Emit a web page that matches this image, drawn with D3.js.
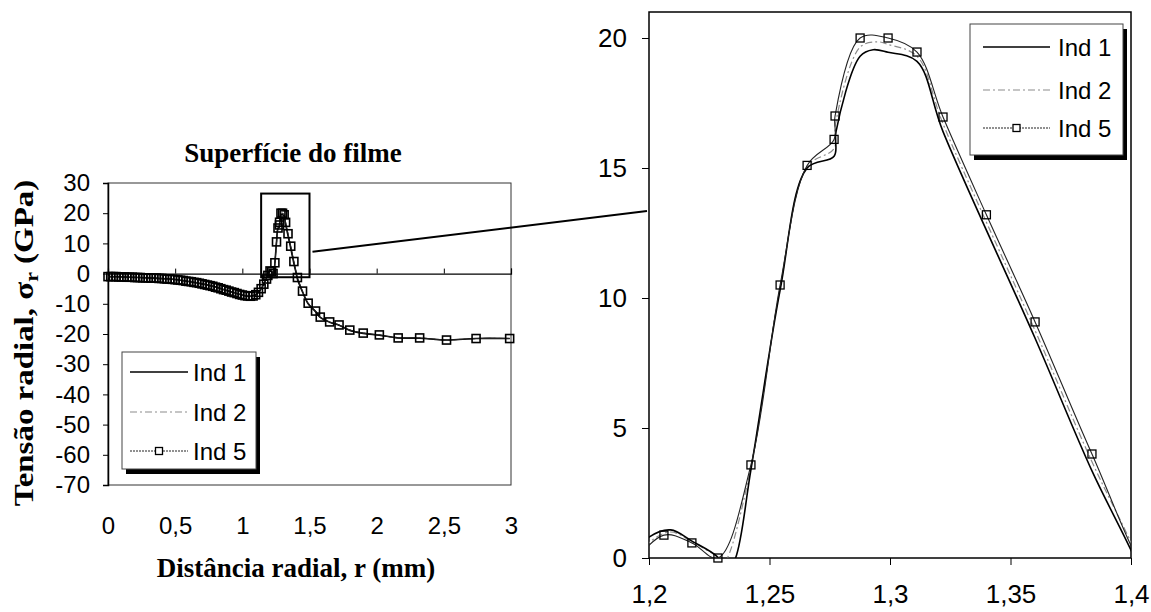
<!DOCTYPE html>
<html><head><meta charset="utf-8">
<script src="https://cdn.jsdelivr.net/npm/d3@7"></script>
<style>body{margin:0;background:#fff}svg{display:block}</style>
</head><body><svg id="c" width="1151" height="612"></svg>
<script>
// ---------- DATA ----------
const seriesNames = ["Ind 1", "Ind 2", "Ind 5"];

const ind1 = [[0,-1.0],[0.1,-1.1],[0.2,-1.25],[0.3,-1.4],[0.4,-1.65],[0.5,-1.95],[0.6,-2.6],[0.7,-3.4],[0.8,-4.4],[0.9,-5.8],[1.0,-7.1],[1.05,-7.5],[1.1,-7.0],[1.15,-4.3],[1.19,-0.3],
  [1.2,0.8],[1.209,1.08],[1.2178,0.65],[1.2286,0.03],[1.232,-0.5],[1.2357,-0.05],[1.2423,3.4],[1.2544,10.3],[1.2656,15.0],[1.2768,15.45],[1.2776,16.4],[1.2876,19.3],[1.293,19.55],[1.2992,19.45],[1.3112,19.1],[1.322,16.4],[1.3602,8.45],[1.3838,3.35],[1.4,0.3],[1.41,-1.8],[1.448,-6.1],
  [1.49,-10.0],[1.545,-12.6],[1.58,-14.5],[1.65,-16.1],[1.72,-17.1],[1.8,-18.8],[1.9,-19.8],[2.02,-20.4],[2.16,-21.3],[2.32,-21.4],[2.52,-22.0],[2.74,-21.5],[2.99,-21.5]];

const ind2 = [[0,-1.0],[0.1,-1.1],[0.2,-1.25],[0.3,-1.4],[0.4,-1.7],[0.5,-2.0],[0.6,-2.6],[0.7,-3.4],[0.8,-4.5],[0.9,-5.9],[1.0,-7.2],[1.05,-7.5],[1.1,-7.0],[1.15,-4.2],[1.19,-0.4],
  [1.2,0.6],[1.209,1.0],[1.2178,0.62],[1.2286,0.02],[1.2305,-0.2],[1.2325,0.0],[1.2423,3.5],[1.2544,10.4],[1.2656,15.05],[1.2768,15.75],[1.2774,16.7],[1.2876,19.65],[1.295,19.85],[1.2992,19.75],[1.3112,19.3],[1.322,16.7],[1.3602,8.75],[1.3838,3.7],[1.4,0.6],[1.41,-1.5],[1.448,-5.9],
  [1.49,-9.9],[1.545,-12.5],[1.58,-14.4],[1.65,-16.0],[1.72,-17.0],[1.8,-18.7],[1.9,-19.7],[2.02,-20.3],[2.16,-21.3],[2.32,-21.3],[2.52,-22.0],[2.74,-21.5],[2.99,-21.5]];

const ind5 = [[0,-1.0],[0.02,-1.0],[0.04,-1.0],[0.06,-1.0],[0.08,-1.1],[0.1,-1.1],[0.12,-1.1],[0.14,-1.2],[0.16,-1.2],[0.18,-1.2],[0.2,-1.3],[0.22,-1.3],[0.24,-1.3],[0.26,-1.4],[0.28,-1.4],[0.3,-1.4],[0.32,-1.5],[0.34,-1.5],[0.36,-1.5],[0.38,-1.6],[0.4,-1.6],[0.42,-1.7],[0.44,-1.8],[0.46,-1.8],[0.48,-1.9],[0.5,-2.0],[0.52,-2.1],[0.54,-2.2],[0.56,-2.3],[0.58,-2.5],[0.6,-2.6],[0.62,-2.7],[0.64,-2.9],[0.66,-3.0],[0.68,-3.2],[0.7,-3.4],[0.72,-3.6],[0.74,-3.8],[0.76,-4.0],[0.78,-4.2],[0.8,-4.5],[0.82,-4.7],[0.84,-5.0],[0.86,-5.3],[0.88,-5.5],[0.9,-5.8],[0.92,-6.1],[0.94,-6.3],[0.96,-6.6],[0.98,-6.9],[1.0,-7.1],[1.02,-7.3],[1.04,-7.4],[1.06,-7.5],[1.08,-7.4],[1.1,-7.0],[1.12,-6.2],[1.14,-5.0],[1.16,-3.5],[1.18,-1.8],[1.19,-0.6],
  [1.2062,0.88],[1.2178,0.58],[1.2286,0.0],[1.2423,3.58],[1.2544,10.5],[1.2656,15.1],[1.2768,16.1],[1.2772,17.0],[1.2876,20.0],[1.2992,20.0],[1.3112,19.46],[1.322,16.96],[1.34,13.2],[1.3602,9.08],[1.3838,4.0],[1.41,-1.3],
  [1.448,-5.8],[1.49,-9.8],[1.545,-12.4],[1.58,-14.4],[1.65,-16.0],[1.72,-17.0],[1.8,-18.7],[1.9,-19.7],[2.02,-20.3],[2.16,-21.3],[2.32,-21.3],[2.52,-22.0],[2.74,-21.5],[2.99,-21.5]];

const leftXTicks = [0, 0.5, 1, 1.5, 2, 2.5, 3];
const leftYTicks = [30, 20, 10, 0, -10, -20, -30, -40, -50, -60, -70];
const rightXTicks = [1.2, 1.25, 1.3, 1.35, 1.4];
const rightYTicks = [0, 5, 10, 15, 20];
const zoomWindow = {x: [1.14, 1.5], y: [-1.2, 26.5]};

// ---------- SETUP ----------
const svg = d3.select("#c");
const SANS = "'Liberation Sans', Arial, sans-serif";
const SERIF = "'Liberation Serif', 'Times New Roman', serif";
const fmtComma = d => String(d).replace(".", ",");

const xL = d3.scaleLinear().domain([0, 3]).range([108, 511]);
const yL = d3.scaleLinear().domain([-70, 30]).range([485, 183]);
const xR = d3.scaleLinear().domain([1.2, 1.4]).range([649, 1131]);
const yR = d3.scaleLinear().domain([0, 21]).range([558, 12]);

const styles = {
  "Ind 1": {stroke: "#000", width: 1.6, dash: null, marker: false},
  "Ind 2": {stroke: "#8c8c8c", width: 1.2, dash: "7,3,2,3", marker: false},
  "Ind 5": {stroke: "#222", width: 1.1, dash: null, marker: true}
};
const dataByName = {"Ind 1": ind1, "Ind 2": ind2, "Ind 5": ind5};

const defs = svg.append("defs");
defs.append("clipPath").attr("id", "clipL").append("rect")
  .attr("x", xL(0)).attr("y", yL(30)).attr("width", xL(3) - xL(0)).attr("height", yL(-70) - yL(30));
defs.append("clipPath").attr("id", "clipR").append("rect")
  .attr("x", xR(1.2)).attr("y", yR(21)).attr("width", xR(1.4) - xR(1.2)).attr("height", yR(0) - yR(21));

function drawPanel(g, xs, ys, clipId, msize, mstroke) {
  const line = d3.line().x(d => xs(d[0])).y(d => ys(d[1])).curve(d3.curveCatmullRom.alpha(0.5));
  const gl = g.append("g").attr("clip-path", `url(#${clipId})`);
  ["Ind 2", "Ind 1", "Ind 5"].forEach(name => {
    const s = styles[name];
    gl.append("path").datum(dataByName[name]).attr("d", line)
      .attr("fill", "none").attr("stroke", s.stroke).attr("stroke-width", s.width)
      .attr("stroke-dasharray", s.dash);
  });
  const [dx0, dx1] = xs.domain(), [dy0, dy1] = ys.domain();
  const pts = ind5.filter(d => d[0] >= dx0 && d[0] <= dx1 && d[1] >= Math.min(dy0, dy1) && d[1] <= Math.max(dy0, dy1));
  g.append("g").selectAll("rect").data(pts).join("rect")
    .attr("x", d => xs(d[0]) - msize / 2).attr("y", d => ys(d[1]) - msize / 2)
    .attr("width", msize).attr("height", msize)
    .attr("fill", "none").attr("stroke", "#000").attr("stroke-width", mstroke);
}

function legend(x, y, w, h, rows, lineX0, lineX1, textX, fontSize) {
  const g = svg.append("g");
  g.append("rect").attr("x", x + 4).attr("y", y + 5).attr("width", w).attr("height", h).attr("fill", "#000");
  g.append("rect").attr("x", x).attr("y", y).attr("width", w).attr("height", h)
    .attr("fill", "#fff").attr("stroke", "#444").attr("stroke-width", 1);
  seriesNames.forEach((name, i) => {
    const s = styles[name], ry = rows[i];
    g.append("line").attr("x1", lineX0).attr("x2", lineX1).attr("y1", ry).attr("y2", ry)
      .attr("stroke", s.stroke).attr("stroke-width", s.width)
      .attr("stroke-dasharray", s.marker ? "2,1" : s.dash);
    if (s.marker) {
      g.append("rect").attr("x", (lineX0 + lineX1) / 2 - 3.5).attr("y", ry - 3.5).attr("width", 7).attr("height", 7)
        .attr("fill", "#fff").attr("stroke", "#000").attr("stroke-width", 1.3);
    }
    g.append("text").attr("x", textX).attr("y", ry).attr("dy", "0.36em")
      .attr("font-family", SANS).attr("font-size", fontSize).text(name);
  });
}

// ---------- LEFT CHART ----------
const gL = svg.append("g");
gL.append("rect").attr("x", xL(0)).attr("y", yL(30)).attr("width", xL(3) - xL(0)).attr("height", yL(-70) - yL(30))
  .attr("fill", "none").attr("stroke", "#333").attr("stroke-width", 1);
const axYL = gL.append("g").attr("transform", `translate(${xL(0)},0)`)
  .call(d3.axisLeft(yL).tickValues(leftYTicks).tickSize(5).tickPadding(13).tickFormat(d => String(d)));
axYL.select(".domain").attr("stroke-width", 1.5);
const axX0 = gL.append("g").attr("transform", `translate(0,${yL(0)})`)
  .call(d3.axisBottom(xL).tickValues(leftXTicks).tickSize(-5).tickFormat(""));
axX0.select(".domain").attr("stroke-width", 1.2);
const axXB = gL.append("g").attr("transform", `translate(0,${yL(-70)})`)
  .call(d3.axisBottom(xL).tickValues(leftXTicks).tickSize(0).tickPadding(32).tickFormat(fmtComma));
axXB.select(".domain").remove();
gL.selectAll(".tick text").attr("font-family", SANS).attr("font-size", 24).attr("fill", "#000");

drawPanel(gL, xL, yL, "clipL", 8, 1.6);

gL.append("rect").attr("x", xL(zoomWindow.x[0])).attr("y", yL(zoomWindow.y[1]))
  .attr("width", xL(zoomWindow.x[1]) - xL(zoomWindow.x[0])).attr("height", yL(zoomWindow.y[0]) - yL(zoomWindow.y[1]))
  .attr("fill", "none").attr("stroke", "#000").attr("stroke-width", 2);
svg.append("line").attr("x1", xL(zoomWindow.x[1]) + 3).attr("y1", yL(7.2))
  .attr("x2", xR(1.2) - 2).attr("y2", yR(13.35)).attr("stroke", "#000").attr("stroke-width", 2);

svg.append("text").attr("x", 293).attr("y", 162).attr("text-anchor", "middle")
  .attr("font-family", SERIF).attr("font-weight", "bold").attr("font-size", 27).text("Superfície do filme");
svg.append("text").attr("x", 296).attr("y", 577).attr("text-anchor", "middle")
  .attr("font-family", SERIF).attr("font-weight", "bold").attr("font-size", 27).text("Distância radial, r (mm)");
const yt = svg.append("text").attr("transform", "translate(33,343) rotate(-90) scale(1.22,1)").attr("text-anchor", "middle")
  .attr("font-family", SERIF).attr("font-weight", "bold").attr("font-size", 27);
yt.append("tspan").text("Tensão radial, σ");
yt.append("tspan").attr("font-size", 18).attr("dy", 5).text("r");
yt.append("tspan").attr("dy", -5).text(" (GPa)");

legend(122, 352, 134, 117, [372, 412, 451], 130, 188, 193, 24);

// ---------- RIGHT CHART ----------
const gR = svg.append("g");
gR.append("rect").attr("x", xR(1.2)).attr("y", yR(21)).attr("width", xR(1.4) - xR(1.2)).attr("height", yR(0) - yR(21))
  .attr("fill", "none").attr("stroke", "#000").attr("stroke-width", 1.5);
const axYR = gR.append("g").attr("transform", `translate(${xR(1.2)},0)`)
  .call(d3.axisLeft(yR).tickValues(rightYTicks).tickSize(7).tickPadding(15).tickFormat(d => String(d)));
axYR.select(".domain").remove();
const axXR = gR.append("g").attr("transform", `translate(0,${yR(0)})`)
  .call(d3.axisBottom(xR).tickValues(rightXTicks).tickSize(7).tickPadding(20).tickFormat(fmtComma));
axXR.select(".domain").remove();
gR.selectAll(".tick text").attr("font-family", SANS).attr("font-size", 26).attr("fill", "#000");

drawPanel(gR, xR, yR, "clipR", 8, 1.3);

legend(970, 24, 153, 131, [47, 90, 128], 983, 1050, 1058, 24);
</script></body></html>
